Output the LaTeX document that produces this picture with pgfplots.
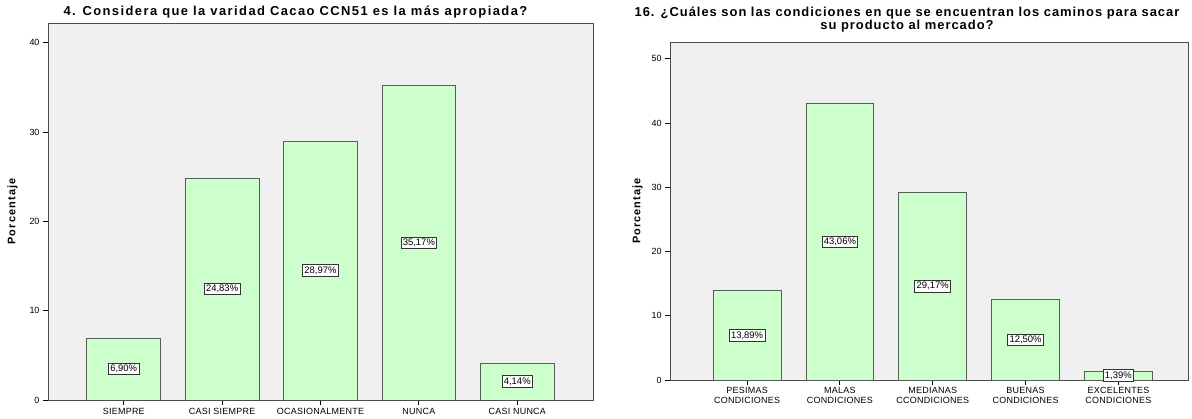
\documentclass[border=0pt]{standalone}
\usepackage{pgfplots}
\pgfplotsset{compat=1.18}
\usepackage{fontspec}
\setmainfont{Liberation Sans}
\definecolor{barfill}{RGB}{204,255,204}
\definecolor{baredge}{RGB}{85,95,85}
\definecolor{bgc}{RGB}{240,240,240}
\begin{document}
\begin{tikzpicture}
\path[use as bounding box] (0bp,0bp) rectangle (1192bp,419bp);
\pgfplotsset{
  spss/.style={
    scale only axis,
    at={(0bp,0bp)}, anchor=south west,
    axis background/.style={fill=bgc},
    axis line style={black!70, line width=0.8bp},
    tick style={black, line width=0.8bp},
    tick align=outside,
    major tick length=5bp,
    xtick pos=left, ytick pos=left,
    ymin=0,
    xtick=data,
    yticklabel style={font=\fontsize{9}{10}\selectfont},
    xticklabel style={font=\fontsize{9}{10}\selectfont\addfontfeatures{LetterSpace=3}},
    /pgf/number format/assume math mode=true,
    ylabel={\bfseries\addfontfeatures{LetterSpace=10}Porcentaje},
    ylabel style={font=\fontsize{11}{12}\selectfont},
    ybar,
    nodes near coords,
    point meta=explicit symbolic,
    visualization depends on=y \as \rawy,
    nodes near coords style={anchor=center,
      shift={(axis direction cs:0,{-0.5*\rawy})},
      draw=black!80, fill=white, inner sep=1.8pt,
      font=\fontsize{9.5}{10}\selectfont},
  }
}
% Left chart
\begin{scope}[shift={(48bp,19bp)}]
\begin{axis}[spss,
  width=545bp, height=377bp,
  xmin=-0.77, xmax=4.77, ymax=42.2,
  ytick={0,10,20,30,40},
  bar width=0.75,
  ylabel shift=5bp,
  xticklabels={SIEMPRE,CASI SIEMPRE,OCASIONALMENTE,NUNCA,CASI NUNCA},
  title style={align=center, xshift=-25bp, yshift=-5bp,
    font=\fontsize{13}{11}\bfseries\selectfont\addfontfeatures{LetterSpace=11}},
  title={4. Considera que la varidad Cacao CCN51 es la más apropiada?},
]
\addplot[fill=barfill, draw=baredge, line width=0.8bp] coordinates {
  (0,6.90) [6,90\%]
  (1,24.83) [24,83\%]
  (2,28.97) [28,97\%]
  (3,35.17) [35,17\%]
  (4,4.14) [4,14\%]
};
\end{axis}
\end{scope}
% Right chart
\begin{scope}[shift={(670bp,39bp)}]
\begin{axis}[spss,
  width=518bp, height=338bp,
  xmin=-0.83, xmax=4.75, ymax=52.6,
  ytick={0,10,20,30,40,50},
  bar width=0.73,
  ylabel shift=2bp,
  xticklabel style={align=center, yshift=1bp},
  xticklabels={{PESIMAS\\CONDICIONES},{MALAS\\CONDICIONES},{MEDIANAS\\CCONDICIONES},{BUENAS\\CONDICIONES},{EXCELENTES\\CONDICIONES}},
  title style={align=center, xshift=-22bp, yshift=0bp,
    font=\fontsize{13}{11}\bfseries\selectfont\addfontfeatures{LetterSpace=7.5}},
  title={16. ¿Cuáles son las condiciones en que se encuentran los caminos para sacar\\su producto al mercado?},
]
\addplot[fill=barfill, draw=baredge, line width=0.8bp] coordinates {
  (0,13.89) [13,89\%]
  (1,43.06) [43,06\%]
  (2,29.17) [29,17\%]
  (3,12.50) [12,50\%]
  (4,1.39) [1,39\%]
};
\end{axis}
\end{scope}
\end{tikzpicture}
\end{document}
